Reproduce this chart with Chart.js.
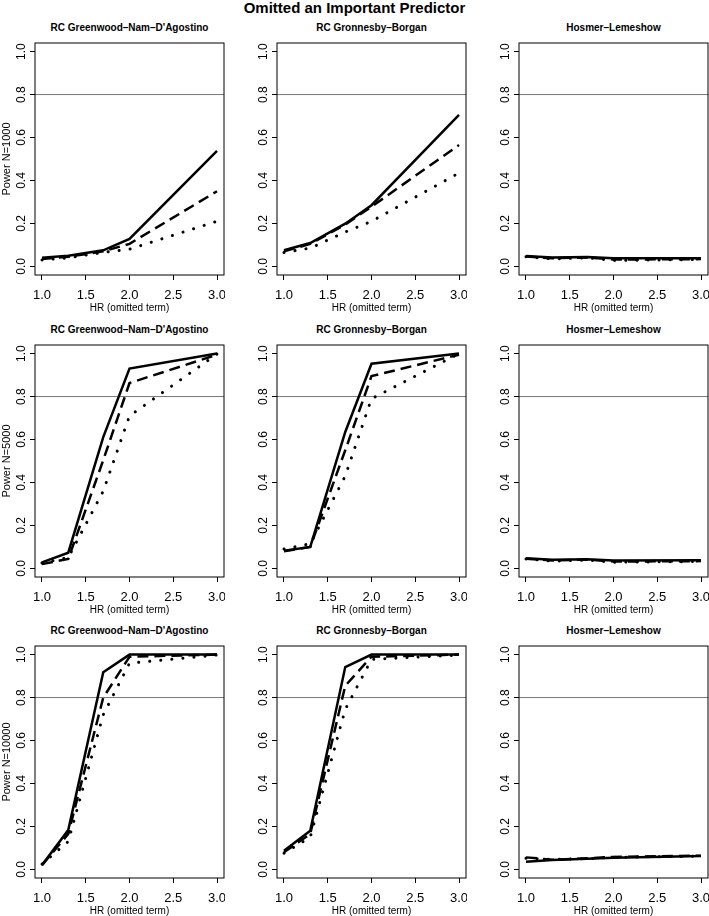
<!DOCTYPE html>
<html>
<head>
<meta charset="utf-8">
<script src="https://cdn.jsdelivr.net/npm/chart.js@4.4.1/dist/chart.umd.min.js"></script>
<style>
  body { margin: 0; background: #fff; width: 709px; height: 916px; position: relative; overflow: hidden;
         font-family: "Liberation Sans", Arial, Helvetica, sans-serif; }
  .panel { position: absolute; }
  .ttl { position: absolute; font-weight: bold; text-align: center; white-space: nowrap; color: #000; }
</style>
</head>
<body>
<div class="ttl" style="left:0;width:709px;top:0;font-size:15px;line-height:16px;">Omitted an Important Predictor</div>
<script>
// x values (hazard ratio of the omitted term) and axis ticks
const hr = [1.0, 1.3, 1.7, 2.0, 3.0];
const xTicks = [1.0, 1.5, 2.0, 2.5, 3.0];
const yTicks = [0.0, 0.2, 0.4, 0.6, 0.8, 1.0];
const powerTarget = 0.8;

const panelTitles = ['RC Greenwood\u2013Nam\u2013D\'Agostino', 'RC Gronnesby\u2013Borgan', 'Hosmer\u2013Lemeshow'];
const rowLabels = ['Power N=1000', 'Power N=5000', 'Power N=10000'];
const xLabel = 'HR (omitted term)';

// N=1000
const gnd1000Solid  = [0.040, 0.050, 0.075, 0.128, 0.538];
const gnd1000Dashed = [0.035, 0.045, 0.070, 0.105, 0.350];
const gnd1000Dotted = [0.030, 0.040, 0.065, 0.080, 0.210];
const gb1000Solid   = [0.075, 0.109, 0.199, 0.285, 0.705];
const gb1000Dashed  = [0.070, 0.105, 0.195, 0.278, 0.565];
const gb1000Dotted  = [0.065, 0.085, 0.160, 0.210, 0.435];
const hl1000Solid   = [0.048, 0.042, 0.044, 0.038, 0.038];
const hl1000Dashed  = [0.046, 0.038, 0.042, 0.032, 0.034];
const hl1000Dotted  = [0.045, 0.035, 0.040, 0.028, 0.032];

// N=5000
const gnd5000Solid  = [0.028, 0.073, 0.611, 0.930, 1.000];
const gnd5000Dashed = [0.020, 0.044, 0.504, 0.863, 0.995];
const gnd5000Dotted = [0.025, 0.050, 0.360, 0.710, 0.998];
const gb5000Solid   = [0.082, 0.100, 0.635, 0.953, 1.000];
const gb5000Dashed  = [0.080, 0.100, 0.550, 0.895, 0.995];
const gb5000Dotted  = [0.090, 0.115, 0.430, 0.790, 1.000];
const hl5000Solid   = [0.047, 0.040, 0.043, 0.037, 0.038];
const hl5000Dashed  = [0.045, 0.037, 0.041, 0.032, 0.034];
const hl5000Dotted  = [0.044, 0.034, 0.039, 0.029, 0.032];

// N=10000
const gnd10000Solid  = [0.020, 0.183, 0.918, 1.000, 1.000];
const gnd10000Dashed = [0.020, 0.165, 0.800, 0.990, 1.000];
const gnd10000Dotted = [0.025, 0.130, 0.720, 0.960, 0.998];
const gb10000Solid   = [0.087, 0.180, 0.942, 1.000, 1.000];
const gb10000Dashed  = [0.080, 0.165, 0.855, 0.990, 1.000];
const gb10000Dotted  = [0.075, 0.150, 0.745, 0.978, 0.998];
const hl10000Solid   = [0.036, 0.044, 0.050, 0.054, 0.062];
const hl10000Dashed  = [0.056, 0.045, 0.052, 0.058, 0.064];
const hl10000Dotted  = [0.052, 0.046, 0.050, 0.056, 0.062];

const rows = [
  [[gnd1000Solid, gnd1000Dashed, gnd1000Dotted], [gb1000Solid, gb1000Dashed, gb1000Dotted], [hl1000Solid, hl1000Dashed, hl1000Dotted]],
  [[gnd5000Solid, gnd5000Dashed, gnd5000Dotted], [gb5000Solid, gb5000Dashed, gb5000Dotted], [hl5000Solid, hl5000Dashed, hl5000Dotted]],
  [[gnd10000Solid, gnd10000Dashed, gnd10000Dotted], [gb10000Solid, gb10000Dashed, gb10000Dotted], [hl10000Solid, hl10000Dashed, hl10000Dotted]]
];

// layout of the plot boxes (pixels)
const boxLeft = [35, 277, 519];
const boxTop = [43, 345, 646];
const boxW = 189, boxH = 232;
const axisW = 35, axisH = 39;

const lineStyles = [
  { borderWidth: 2.5, borderDash: [] },
  { borderWidth: 2.5, borderDash: [11, 6] },
  { borderWidth: 3, borderDash: [0.1, 11], borderCapStyle: 'round' }
];

Chart.defaults.font.family = '"Liberation Sans", Arial, Helvetica, sans-serif';
Chart.defaults.color = '#000';

// grey reference line at 0.8 and the R-style box around the plot region
const boxPlugin = {
  id: 'rbox',
  beforeDatasetsDraw(chart) {
    const { ctx, chartArea: a, scales: { y } } = chart;
    const py = y.getPixelForValue(powerTarget);
    ctx.save();
    ctx.strokeStyle = '#777';
    ctx.lineWidth = 1;
    ctx.beginPath();
    ctx.moveTo(a.left, py);
    ctx.lineTo(a.right, py);
    ctx.stroke();
    ctx.restore();
  },
  afterDatasetsDraw(chart) {
    const { ctx, chartArea: a } = chart;
    ctx.save();
    ctx.strokeStyle = '#000';
    ctx.lineWidth = 1;
    ctx.strokeRect(a.left, a.top, a.right - a.left, a.bottom - a.top);
    ctx.restore();
  }
};

function makePanel(row, col) {
  // panel title
  const t = document.createElement('div');
  t.className = 'ttl';
  t.style.cssText = `left:${boxLeft[col]}px;width:${boxW}px;top:${boxTop[row] - 21}px;font-size:10px;line-height:12px;`;
  t.textContent = panelTitles[col];
  document.body.appendChild(t);

  const canvas = document.createElement('canvas');
  canvas.className = 'panel';
  canvas.width = axisW + boxW + 1;
  canvas.height = 1 + boxH + axisH;
  canvas.style.left = (boxLeft[col] - axisW) + 'px';
  canvas.style.top = (boxTop[row] - 1) + 'px';
  document.body.appendChild(canvas);

  const series = rows[row][col];
  const datasets = series.map((vals, i) => Object.assign({
    data: hr.map((x, j) => ({ x: x, y: vals[j] })),
    borderColor: '#000',
    pointRadius: 0,
    tension: 0,
    fill: false
  }, lineStyles[i]));

  new Chart(canvas, {
    type: 'line',
    data: { datasets: datasets },
    plugins: [boxPlugin],
    options: {
      responsive: false,
      animation: false,
      events: [],
      layout: { padding: { top: 1, right: 1, left: 0, bottom: 0 } },
      plugins: { legend: { display: false }, tooltip: { enabled: false } },
      scales: {
        x: {
          type: 'linear',
          min: 0.92, max: 3.08,
          afterBuildTicks: s => { s.ticks = xTicks.map(v => ({ value: v })); },
          afterFit: s => { s.height = axisH; s.paddingLeft = 0; s.paddingRight = 0; },
          ticks: { autoSkip: false, maxRotation: 0, padding: 8, font: { size: 13 },
                   callback: v => v.toFixed(1) },
          grid: { drawOnChartArea: false, drawTicks: true, tickLength: 5, color: '#000' },
          border: { display: false },
          title: { display: true, text: xLabel, font: { size: 10 }, padding: 0 }
        },
        y: {
          type: 'linear',
          min: -0.04, max: 1.04,
          afterBuildTicks: s => { s.ticks = yTicks.map(v => ({ value: v })); },
          afterFit: s => { s.width = axisW; s.paddingTop = 0; s.paddingBottom = 0; },
          ticks: { autoSkip: false, minRotation: 90, maxRotation: 90, crossAlign: 'center', padding: 0,
                   font: { size: 12 }, callback: v => v.toFixed(1) },
          grid: { drawOnChartArea: false, drawTicks: true, tickLength: 5, color: '#000' },
          border: { display: false },
          title: { display: col === 0, text: rowLabels[row], font: { size: 11 }, padding: 0 }
        }
      }
    }
  });
}

for (let r = 0; r < 3; r++) {
  for (let c = 0; c < 3; c++) makePanel(r, c);
}
</script>
</body>
</html>
